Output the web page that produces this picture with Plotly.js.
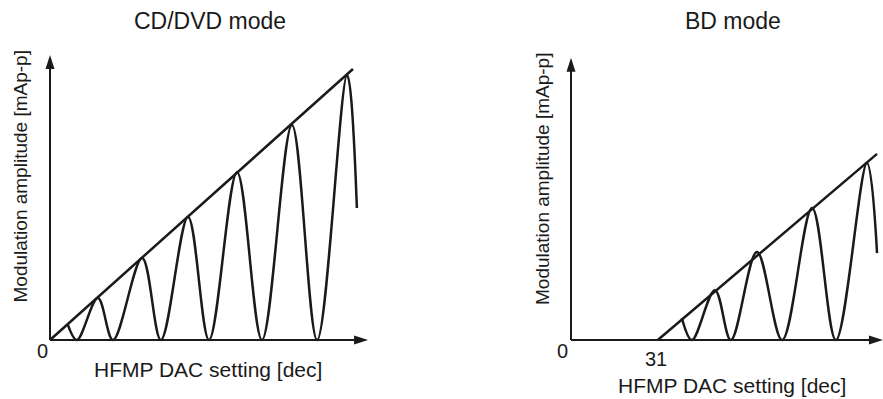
<!DOCTYPE html>
<html><head><meta charset="utf-8">
<script src="https://cdn.plot.ly/plotly-3.0.1.min.js"></script>
<style>html,body{margin:0;padding:0;background:#fff}#chart{width:883px;height:399px}</style>
</head><body><div id="chart"></div>
<script>
// Panel titles and labels
const panelTitles = ["CD/DVD mode", "BD mode"];
const xTitle = "HFMP DAC setting [dec]";
const yTitle = "Modulation amplitude [mAp-p]";
const cdTickLabels = ["0"];
const bdTickLabels = ["0", "31"];
const bdTickValues = [0, 31];

// CD/DVD mode (arbitrary units)
const cdEnvX = [0, 108.2];
const cdEnvY = [0, 95.1];
const cdWaveX = [6.4, 9.6, 17.1, 22.5, 32.9, 39.6, 49.3, 56.8, 66.8, 75.7, 86.4, 95.4, 106.1, 109.6];
const cdWaveY = [5.3, 0, 14.7, 0, 28.8, 0, 43.2, 0, 58.9, 0, 75.4, 0, 93.0, 46.3];

// BD mode
const bdEnvX = [31, 109.3];
const bdEnvY = [0, 65.3];
const bdWaveX = [39.6, 43.2, 51.4, 57.1, 66.4, 75.4, 86.1, 94.6, 105.7, 109.3];
const bdWaveY = [7.7, 0, 17.5, 0, 30.9, 0, 46.3, 0, 62.1, 30.5];

const W = 883, H = 399;
const FONT = "Liberation Sans, Arial, Helvetica, sans-serif";
const ink = "#1a1a1a";
const px = v => v / W;
const py = v => 1 - v / H;

const lineStyle = {color: ink, width: 2.5};
const traces = [
  {x: cdEnvX, y: cdEnvY, xaxis: 'x', yaxis: 'y', mode: 'lines', line: lineStyle, hoverinfo: 'skip'},
  {x: cdWaveX, y: cdWaveY, xaxis: 'x', yaxis: 'y', mode: 'lines', line: Object.assign({shape: 'spline', smoothing: 1}, lineStyle), hoverinfo: 'skip'},
  {x: bdEnvX, y: bdEnvY, xaxis: 'x2', yaxis: 'y2', mode: 'lines', line: lineStyle, hoverinfo: 'skip'},
  {x: bdWaveX, y: bdWaveY, xaxis: 'x2', yaxis: 'y2', mode: 'lines', line: Object.assign({shape: 'spline', smoothing: 1}, lineStyle), hoverinfo: 'skip'}
];

const hidden = {showgrid: false, zeroline: false, showline: false, showticklabels: false, ticks: '', fixedrange: true};
const yDom = [(H - 354.25) / H, (H - 49.3) / H];

function axisShapes(xr, yr, xTip, yTip) {
  const s = [];
  s.push({type: 'line', xref: xr, yref: yr, x0: 0, y0: 0, x1: xTip - 3, y1: 0, line: {color: ink, width: 2}});
  s.push({type: 'line', xref: xr, yref: yr, x0: 0, y0: 0, x1: 0, y1: yTip - 3, line: {color: ink, width: 2}});
  s.push({type: 'path', xref: xr, yref: yr, xsizemode: 'pixel', ysizemode: 'pixel', xanchor: xTip, yanchor: 0,
          path: 'M0,0 L-14,4.5 L-14,-4.5 Z', fillcolor: ink, line: {width: 0}});
  s.push({type: 'path', xref: xr, yref: yr, xsizemode: 'pixel', ysizemode: 'pixel', xanchor: 0, yanchor: yTip,
          path: 'M0,0 L-4.5,-14 L4.5,-14 Z', fillcolor: ink, line: {width: 0}});
  return s;
}

const ann = (text, x, y, size, extra) => Object.assign({
  text: text, xref: 'paper', yref: 'paper', x: px(x), y: py(y), xanchor: 'center', yanchor: 'middle',
  showarrow: false, font: {family: FONT, size: size, color: ink}
}, extra || {});

const annotations = [
  ann(panelTitles[0], 210, 21, 23),
  ann(panelTitles[1], 733, 21, 23),
  ann(xTitle, 208, 369.5, 21),
  ann(xTitle, 732, 385, 21),
  ann(yTitle, 20, 176.5, 19, {textangle: -90}),
  ann(yTitle, 542, 179, 19, {textangle: -90}),
  ann(cdTickLabels[0], 42, 350.5, 20),
  {text: bdTickLabels[0], xref: 'x2', yref: 'paper', x: bdTickValues[0] - 3.2, y: py(350.5), showarrow: false,
   xanchor: 'center', yanchor: 'middle', font: {family: FONT, size: 20, color: ink}},
  {text: bdTickLabels[1], xref: 'x2', yref: 'paper', x: bdTickValues[1] - 0.7, y: py(358.5), showarrow: false,
   xanchor: 'center', yanchor: 'middle', font: {family: FONT, size: 20, color: ink}}
];

const layout = {
  width: W, height: H,
  margin: {l: 0, r: 0, t: 0, b: 0},
  paper_bgcolor: '#fff', plot_bgcolor: 'rgba(0,0,0,0)',
  showlegend: false,
  xaxis: Object.assign({domain: [36 / W, (50 + 114 * 2.8) / W], range: [-5, 114]}, hidden),
  yaxis: Object.assign({domain: yDom, range: [-5, 102]}, hidden),
  xaxis2: Object.assign({domain: [557 / W, 1], range: [-5, 312 / 2.8], anchor: 'y2'}, hidden),
  yaxis2: Object.assign({domain: yDom, range: [-5, 102], anchor: 'x2'}, hidden),
  shapes: axisShapes('x', 'y', 113.6, 100).concat(axisShapes('x2', 'y2', 111.4, 99)),
  annotations: annotations
};

Plotly.newPlot('chart', traces, layout, {staticPlot: true, displayModeBar: false});
</script>
</body></html>
